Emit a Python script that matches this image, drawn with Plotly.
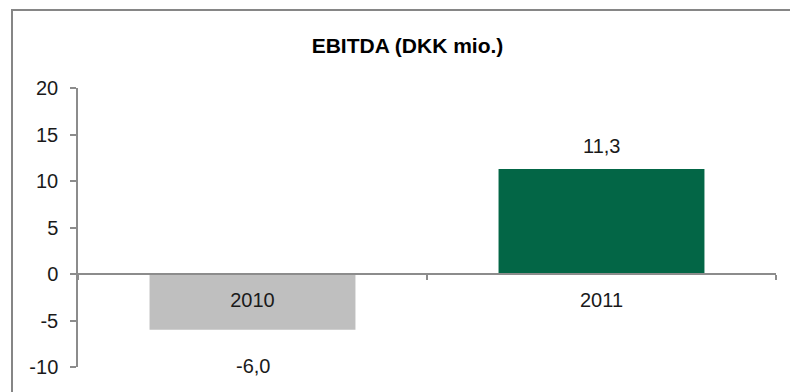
import plotly.graph_objects as go

# EBITDA per year, DKK millions
years = ["2010", "2011"]
ebitda = [-6.0, 11.3]
bar_colors = ["#BFBFBF", "#036646"]

y_ticks = [-10, -5, 0, 5, 10, 15, 20]
y_min, y_max = -10, 20

FONT = "Liberation Sans, Arial, sans-serif"
AXIS_GREY = "#8C8C8C"

fig = go.Figure()
fig.add_trace(go.Bar(
    x=years,
    y=ebitda,
    marker=dict(color=bar_colors, line=dict(width=0)),
    hoverinfo="skip",
))

# value labels, comma as decimal separator (x given as category index)
for i, v in enumerate(ebitda):
    fig.add_annotation(
        x=i, y=v,
        text=f"{v:.1f}".replace(".", ","),
        showarrow=False,
        yanchor="middle",
        yshift=23 if v >= 0 else -36,
        font=dict(family=FONT, size=20, color="#1A1A1A"),
    )

W, H = 790, 392
m_l, m_r, m_t, m_b = 78, 14, 88, 25
plot_w = W - m_l - m_r
plot_h = H - m_t - m_b

# outer chart frame (left and top edges visible)
fx0 = (12 - m_l) / plot_w
fy1 = 1 + (m_t - 10) / plot_h
fig.add_shape(type="rect", xref="paper", yref="paper",
              x0=fx0, x1=1.2, y0=-0.3, y1=fy1,
              line=dict(color="#868686", width=2), layer="below")

fig.update_layout(
    width=W, height=H,
    margin=dict(l=m_l, r=m_r, t=m_t, b=m_b),
    paper_bgcolor="white",
    plot_bgcolor="white",
    showlegend=False,
    bargap=0.41,
    title=dict(
        text="<b>EBITDA (DKK mio.)</b>",
        x=407.5 / W, xanchor="center",
        y=1 - 46 / H, yanchor="middle",
        font=dict(family=FONT, size=21, color="#000000"),
    ),
    font=dict(family=FONT, size=20, color="#1A1A1A"),
    xaxis=dict(
        type="category",
        categoryorder="array", categoryarray=years,
        range=[-0.5, len(years) - 0.5],
        anchor="free",
        position=(0 - y_min) / (y_max - y_min),
        showline=True, linecolor=AXIS_GREY, linewidth=1.5,
        ticks="outside", ticklen=5, tickcolor=AXIS_GREY, tickwidth=1.5,
        tickson="boundaries",
        tickangle=0,
        ticklabelstandoff=8,
        showgrid=False, zeroline=False,
        tickfont=dict(family=FONT, size=20, color="#1A1A1A"),
        fixedrange=True,
    ),
    yaxis=dict(
        range=[y_min, y_max],
        tickvals=y_ticks,
        ticktext=[str(t) for t in y_ticks],
        showline=True, linecolor=AXIS_GREY, linewidth=1.5,
        ticks="outside", ticklen=6, tickcolor=AXIS_GREY, tickwidth=1.5,
        ticklabelstandoff=8,
        showgrid=False, zeroline=False,
        tickfont=dict(family=FONT, size=20, color="#1A1A1A"),
        fixedrange=True,
    ),
)

fig.write_html("out.html", config={"displayModeBar": False})
